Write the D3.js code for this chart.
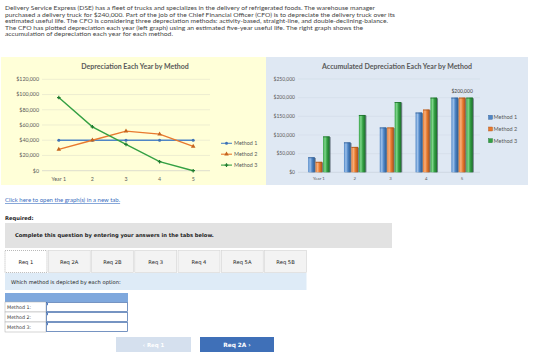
<!DOCTYPE html>
<html><head><meta charset="utf-8">
<script src="https://cdn.jsdelivr.net/npm/d3@7"></script>
<style>body{margin:0;background:#fff}svg{display:block}</style>
</head><body>
<svg id="c" width="560" height="364"></svg>
<script>
const years = ["Year 1","2","3","4","5"];
const methods = ["Method 1","Method 2","Method 3"];
const annualM1 = [40000,40000,40000,40000,40000];
const annualM2 = [28000,40000,52000,48000,32000];
const annualM3 = [96000,57600,34560,11840,0];
const accumM1 = [40000,80000,120000,160000,200000];
const accumM2 = [28000,68000,120000,168000,200000];
const accumM3 = [96000,153600,188160,200000,200000];
const leftTicks = [0,20000,40000,60000,80000,100000,120000];
const rightTicks = [0,50000,100000,150000,200000,250000];
const paragraph = [
 "Delivery Service Express (DSE) has a fleet of trucks and specializes in the delivery of refrigerated foods. The warehouse manager",
 "purchased a delivery truck for $240,000. Part of the job of the Chief Financial Officer (CFO) is to depreciate the delivery truck over its",
 "estimated useful life. The CFO is considering three depreciation methods: activity-based, straight-line, and double-declining-balance.",
 "The CFO has plotted depreciation each year (left graph) using an estimated five-year useful life. The right graph shows the",
 "accumulation of depreciation each year for each method."];
const paraWidths = [370, 390, 383, 358, 168];
const tabs = ["Req 1","Req 2A","Req 2B","Req 3","Req 4","Req 5A","Req 5B"];

const colors = ["#4F86C6","#E8792E","#34A043"];
const svg = d3.select("#c");
const fmt = v => "$" + d3.format(",")(v);

// paragraph
svg.append("g").selectAll("text").data(paragraph).join("text")
  .attr("x",5).attr("y",(d,i)=>10.3+i*6.5)
  .attr("font-family","Lato, 'Open Sans', sans-serif").attr("font-size",5.9).attr("fill","#444")
  .attr("textLength",(d,i)=>paraWidths[i]).attr("lengthAdjust","spacingAndGlyphs")
  .text(d=>d);

// panels
svg.append("rect").attr("x",1).attr("y",57).attr("width",265).attr("height",128).attr("fill","#FFFFD8");
svg.append("rect").attr("x",266).attr("y",57).attr("width",262).attr("height",128).attr("fill","#DFE8F3");

const chartFont = "Lato, 'Open Sans', sans-serif";
// ---------- left chart
const gL = svg.append("g");
const xL = d3.scaleBand().domain(years).range([42,210]);
const yL = d3.scaleLinear().domain([0,120000]).range([170.7,79.3]);
gL.append("text").attr("x",135).attr("y",69).attr("text-anchor","middle")
  .attr("font-family",chartFont).attr("font-weight","bold").attr("font-size",7).attr("fill","#595959")
  .text("Depreciation Each Year by Method");
gL.selectAll("line.g").data(leftTicks).join("line")
  .attr("x1",42).attr("x2",210).attr("y1",d=>yL(d)).attr("y2",d=>yL(d))
  .attr("stroke",d=>d===0?"#C8C8C8":"#E2E2CC").attr("stroke-width",0.6);
gL.selectAll("text.y").data(leftTicks).join("text")
  .attr("x",39).attr("y",d=>yL(d)+1.8).attr("text-anchor","end")
  .attr("font-family",chartFont).attr("font-size",5.3).attr("fill","#595959").text(fmt);
gL.selectAll("text.x").data(years).join("text")
  .attr("x",d=>xL(d)+xL.bandwidth()/2).attr("y",180.5).attr("text-anchor","middle")
  .attr("font-family",chartFont).attr("font-size",5.3).attr("fill","#595959").text(d=>d);
const annual = [annualM1,annualM2,annualM3];
const line = d3.line().x((d,i)=>xL(years[i])+xL.bandwidth()/2).y(d=>yL(d));
function marker(g, type, x, y, c){
  if(type===0) g.append("circle").attr("cx",x).attr("cy",y).attr("r",1.5).attr("fill",c);
  else if(type===1) g.append("path").attr("d",d3.symbol(d3.symbolTriangle,9)()).attr("transform",`translate(${x},${y})`).attr("fill","#C5651E");
  else g.append("path").attr("d",d3.symbol(d3.symbolCross,7)()).attr("transform",`translate(${x},${y})`).attr("fill","#1F7A2E");
}
annual.forEach((s,k)=>{
  gL.append("path").attr("d",line(s)).attr("fill","none").attr("stroke",colors[k]).attr("stroke-width",1.4);
  s.forEach((v,i)=>marker(gL,k,xL(years[i])+xL.bandwidth()/2,yL(v),k===0?"#3E72B5":colors[k]));
});
methods.forEach((m,k)=>{
  const y = 143.3 + k*10.9;
  gL.append("line").attr("x1",221).attr("x2",232).attr("y1",y).attr("y2",y).attr("stroke",colors[k]).attr("stroke-width",1.1);
  marker(gL,k,226.5,y,k===0?"#3E72B5":colors[k]);
  gL.append("text").attr("x",234).attr("y",y+1.9).attr("font-family",chartFont).attr("font-size",5.4).attr("fill","#595959").text(m);
});

// ---------- right chart
const gR = svg.append("g");
const xR = d3.scaleBand().domain(years).range([301,480]).paddingInner(0.4).paddingOuter(0.2);
const xI = d3.scaleBand().domain(methods).range([0,xR.bandwidth()]).paddingInner(0.12);
const yR = d3.scaleLinear().domain([0,250000]).range([172.3,79]);
gR.append("text").attr("x",397).attr("y",69).attr("text-anchor","middle")
  .attr("font-family",chartFont).attr("font-weight","bold").attr("font-size",7).attr("fill","#595959")
  .text("Accumulated Depreciation Each Year by Method");
gR.selectAll("line.g").data(rightTicks).join("line")
  .attr("x1",298).attr("x2",480).attr("y1",d=>yR(d)).attr("y2",d=>yR(d))
  .attr("stroke",d=>d===0?"#C4CCD6":"#D2DCE8").attr("stroke-width",0.6);
gR.selectAll("text.y").data(rightTicks).join("text")
  .attr("x",295).attr("y",d=>yR(d)+1.7).attr("text-anchor","end")
  .attr("font-family",chartFont).attr("font-size",5).attr("fill","#595959").text(fmt);
gR.selectAll("text.x").data(years).join("text")
  .attr("x",d=>xR(d)+xR.bandwidth()/2).attr("y",180).attr("text-anchor","middle")
  .attr("font-family",chartFont).attr("font-size",4.3).attr("fill","#595959").text(d=>d);
const defs = svg.append("defs");
const dark = ["#2F5D94","#A9531A","#1C6E2B"];
const light = ["#9CC0EA","#F6B07C","#7ED68A"];
colors.forEach((c,k)=>{
  const gr = defs.append("linearGradient").attr("id","g"+k).attr("x1","0").attr("x2","1").attr("y1","0").attr("y2","0");
  gr.append("stop").attr("offset","0").attr("stop-color",c);
  gr.append("stop").attr("offset","0.3").attr("stop-color",light[k]);
  gr.append("stop").attr("offset","0.6").attr("stop-color",c);
  gr.append("stop").attr("offset","1").attr("stop-color",dark[k]);
});
const accum = [accumM1,accumM2,accumM3];
accum.forEach((s,k)=>{
  const m = methods[k];
  const bars = gR.append("g");
  s.forEach((v,i)=>{
    const x = xR(years[i]) + xI(m), w = xI.bandwidth(), y = yR(v), h = yR(0)-yR(v);
    bars.append("rect").attr("x",x+1).attr("y",y+0.6).attr("width",w).attr("height",h-0.6).attr("fill","#1E2B3A").attr("opacity",0.55);
    bars.append("rect").attr("x",x).attr("y",y).attr("width",w).attr("height",h).attr("fill",`url(#g${k})`);
    bars.append("rect").attr("x",x).attr("y",y).attr("width",w).attr("height",0.8).attr("fill",dark[k]);
  });
});
gR.append("text").attr("x",xR("5")+xR.bandwidth()/2).attr("y",yR(accumM3[4])-5)
  .attr("text-anchor","middle").attr("font-family",chartFont).attr("font-size",5).attr("fill","#404040").text(fmt(accumM3[4]));
methods.forEach((m,k)=>{
  const y = 117.3 + k*11.7;
  gR.append("rect").attr("x",488.5).attr("y",y-2).attr("width",4).attr("height",4).attr("fill",colors[k]).attr("stroke",dark[k]).attr("stroke-width",0.4);
  gR.append("text").attr("x",493.5).attr("y",y+2).attr("font-family",chartFont).attr("font-size",5.5).attr("fill","#595959").text(m);
});

// ---------- bottom UI
const ui = svg.append("g");
const uiFont = "'DejaVu Sans', Verdana, sans-serif";
ui.append("text").attr("x",5).attr("y",202).attr("font-family","Lato, sans-serif").attr("font-size",6).attr("fill","#3A6EC0")
  .attr("text-decoration","underline").text("Click here to open the graph(s) in a new tab.");
ui.append("text").attr("x",5).attr("y",219.5).attr("font-family",uiFont).attr("font-weight","bold").attr("font-size",5.2).attr("fill","#222").text("Required:");
ui.append("rect").attr("x",5).attr("y",223).attr("width",387).attr("height",25).attr("fill","#E2E2E2");
ui.append("text").attr("x",15).attr("y",237).attr("font-family",uiFont).attr("font-weight","bold").attr("font-size",5.2).attr("fill","#222")
  .text("Complete this question by entering your answers in the tabs below.");
const tabX = d3.scaleBand().domain(tabs).range([5,306.5]).paddingInner(0.03);
ui.selectAll("rect.tab").data(tabs).join("rect")
  .attr("x",d=>tabX(d)).attr("y",250.5).attr("width",tabX.bandwidth()).attr("height",22)
  .attr("fill",(d,i)=>i===0?"#fff":"#F3F3F3")
  .attr("stroke",(d,i)=>i===0?"#8A8A8A":"#D2D2D2").attr("stroke-width",0.6)
  .attr("stroke-dasharray",(d,i)=>i===0?"1,1":null);
ui.selectAll("text.tab").data(tabs).join("text")
  .attr("x",d=>tabX(d)+tabX.bandwidth()/2).attr("y",264).attr("text-anchor","middle")
  .attr("font-family",uiFont).attr("font-size",5.2).attr("fill","#222").text(d=>d);
ui.append("rect").attr("x",5).attr("y",273).attr("width",301.5).attr("height",17).attr("fill","#DEEBF7");
ui.append("text").attr("x",11).attr("y",284).attr("font-family",uiFont).attr("font-size",5.2).attr("fill","#222")
  .text("Which method is depicted by each option:");
ui.append("rect").attr("x",5).attr("y",293).attr("width",123).attr("height",9).attr("fill","#7FA8DD");
methods.forEach((m,k)=>{
  const y = 302 + k*10;
  ui.append("rect").attr("x",5).attr("y",y).attr("width",41).attr("height",10).attr("fill","#fff").attr("stroke","#AAAAAA").attr("stroke-width",0.5);
  ui.append("text").attr("x",7).attr("y",y+7).attr("font-family",uiFont).attr("font-size",4.8).attr("fill","#333").text(m+":");
  ui.append("rect").attr("x",46.5).attr("y",y+0.5).attr("width",81).attr("height",9).attr("fill","#fff").attr("stroke","#3D67A8").attr("stroke-width",0.7);
  ui.append("rect").attr("x",47).attr("y",y+1).attr("width",0.8).attr("height",2.2).attr("fill","#2D5FB0");
});
ui.append("rect").attr("x",116).attr("y",337).attr("width",75).attr("height",15).attr("fill","#D5E0EE");
ui.append("text").attr("x",153.5).attr("y",346.8).attr("text-anchor","middle").attr("font-family",uiFont).attr("font-weight","bold")
  .attr("font-size",5.4).attr("fill","#fff").text("\u2039   Req 1");
ui.append("rect").attr("x",200).attr("y",337).attr("width",74).attr("height",15).attr("fill","#3F70B8");
ui.append("text").attr("x",237).attr("y",347).attr("text-anchor","middle").attr("font-family",uiFont).attr("font-weight","bold")
  .attr("font-size",5.8).attr("fill","#fff").text("Req 2A  \u203A");
</script>
</body></html>
